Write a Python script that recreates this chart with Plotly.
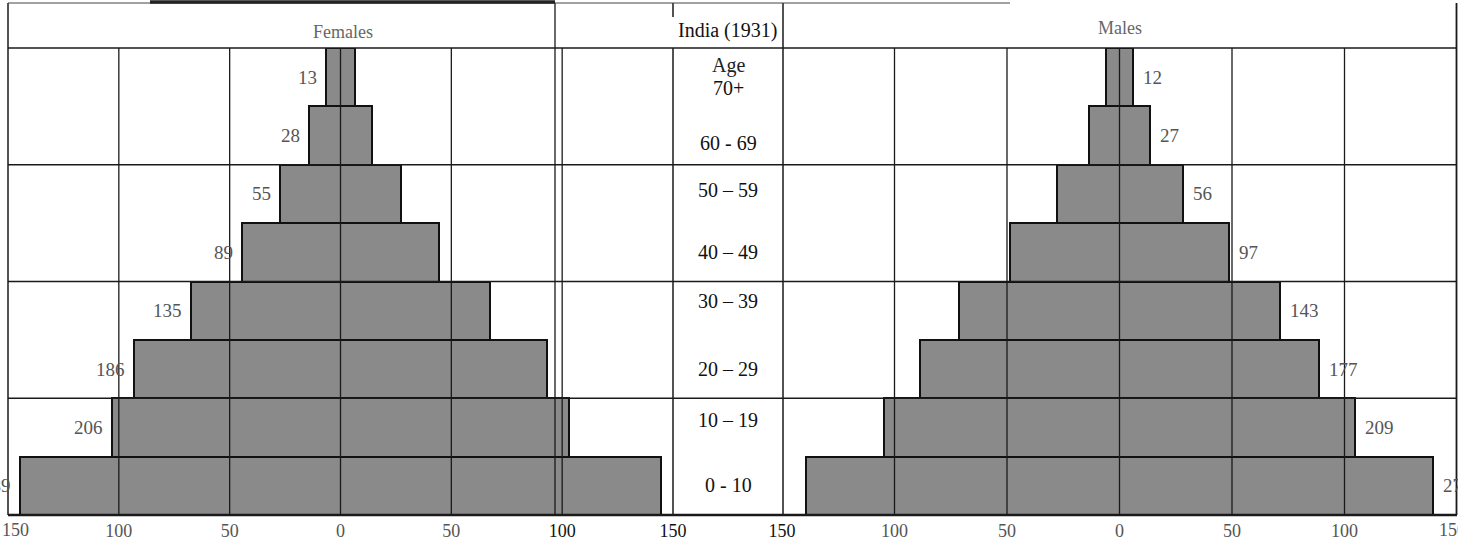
import plotly.graph_objects as go

# ---- data ----
age_groups = ["0 - 10", "10 -- 19", "20 -- 29", "30 -- 39", "40 -- 49", "50 -- 59", "60 - 69", "70+"]
females = [289, 206, 186, 135, 89, 55, 28, 13]
males = [279, 209, 177, 143, 97, 56, 27, 12]
tick_vals = [-150, -100, -50, 0, 50, 100, 150]
tick_text = ["150", "100", "50", "0", "50", "100", "150"]
title_left = "Females"
title_mid = "India (1931)"
title_right = "Males"
age_heading = "Age"

# ---- layout helpers (pixel -> paper) ----
W, H = 1458, 548
def px(x):
    return x / W
def py(y):
    return 1 - y / H

SERIF = "Liberation Serif"
BAR_FILL = "#8a8a8a"
Y_TOP, Y_BOT = 48, 515
ydom = [py(Y_BOT), py(Y_TOP)]

fig = go.Figure()
fig.add_trace(go.Bar(
    y=age_groups, x=females, base=[-v / 2 for v in females], orientation="h",
    marker=dict(color=BAR_FILL, line=dict(color="#111", width=2)),
    xaxis="x", yaxis="y", hoverinfo="skip", showlegend=False))
fig.add_trace(go.Bar(
    y=age_groups, x=males, base=[-v / 2 for v in males], orientation="h",
    marker=dict(color=BAR_FILL, line=dict(color="#111", width=2)),
    xaxis="x2", yaxis="y2", hoverinfo="skip", showlegend=False))

def ticktexts(black_idx):
    out = []
    for i, t in enumerate(tick_text):
        c = "#111" if i in black_idx else "#555"
        out.append(f"<span style='color:{c}'>{t}</span>")
    return out

axis_common = dict(range=[-150, 150], showgrid=False, zeroline=False, showline=False,
                   tickvals=tick_vals, ticks="", fixedrange=True, automargin=False,
                   ticklabelstandoff=3,
                   tickfont=dict(family=SERIF, size=18, color="#555"))
yaxis_common = dict(domain=ydom, categoryorder="array", categoryarray=age_groups,
                    range=[-0.5, 7.5], showticklabels=False, showgrid=False, zeroline=False,
                    fixedrange=True, automargin=False)
fig.update_layout(
    width=W, height=H, margin=dict(l=0, r=0, t=0, b=0, autoexpand=False),
    paper_bgcolor="white", plot_bgcolor="rgba(0,0,0,0)",
    bargap=0, barmode="overlay",
    xaxis=dict(domain=[px(8), px(673)], ticktext=ticktexts({5, 6}), anchor="y", **axis_common),
    xaxis2=dict(domain=[px(782), px(1457)], ticktext=ticktexts({0}), anchor="y2", **axis_common),
    yaxis=dict(**yaxis_common),
    yaxis2=dict(anchor="x2", **yaxis_common),
)

shapes = []
LINE = "#1a1a1a"
def vline_paper(x, y0, y1, w=1.3, color=LINE):
    shapes.append(dict(type="line", xref="paper", yref="paper", x0=px(x), x1=px(x),
                       y0=py(y0), y1=py(y1), line=dict(color=color, width=w), layer="above"))
def hline_paper(y, x0, x1, w=1.3, color=LINE):
    shapes.append(dict(type="line", xref="paper", yref="paper", x0=px(x0), x1=px(x1),
                       y0=py(y), y1=py(y), line=dict(color=color, width=w), layer="above"))

# grid lines inside panels (drawn over the bars, as in the print)
for v in [-100, -50, 0, 50, 100]:
    shapes.append(dict(type="line", xref="x", yref="paper", x0=v, x1=v, y0=ydom[0], y1=ydom[1],
                       line=dict(color=LINE, width=1.3), layer="above"))
for v in [-100, -50, 0, 50, 100]:
    shapes.append(dict(type="line", xref="x2", yref="paper", x0=v, x1=v, y0=ydom[0], y1=ydom[1],
                       line=dict(color=LINE, width=1.3), layer="above"))
# horizontal grid lines every two age groups
for yb in [1.5, 3.5, 5.5]:
    shapes.append(dict(type="line", xref="paper", yref="y", x0=px(8), x1=px(1457), y0=yb, y1=yb,
                       line=dict(color=LINE, width=1.3), layer="above"))

# frame / table lines
vline_paper(8, 3, Y_BOT, 1.5)
vline_paper(555, 3, Y_BOT, 1.3)
vline_paper(673, 3, 17, 1.5)
vline_paper(673, Y_TOP, Y_BOT, 1.5)
vline_paper(783, 3, Y_BOT, 1.5)
vline_paper(1456.5, 3, Y_BOT, 1.8)
hline_paper(Y_TOP, 8, 1457, 1.6)
hline_paper(Y_BOT, 8, 1457, 2.5)
hline_paper(3, 8, 1010, 1.0, "#444")
hline_paper(2, 150, 555, 3.5, "#222")

fig.update_layout(shapes=shapes)

ann = []
# value labels
for a, v in zip(age_groups, females):
    ann.append(dict(xref="x", yref="y", x=-v / 2, y=a, text=str(v), showarrow=False,
                    xanchor="right", yanchor="middle", xshift=-7,
                    font=dict(family=SERIF, size=19, color="#555")))
for a, v in zip(age_groups, males):
    ann.append(dict(xref="x2", yref="y2", x=v / 2, y=a, text=str(v), showarrow=False,
                    xanchor="left", yanchor="middle", xshift=8,
                    font=dict(family=SERIF, size=19, color="#555")))
# age labels in middle column
label_yshift = [1, 7, 0, 10, 0, 4, -7, -11]
for a, s in zip(age_groups, label_yshift):
    ann.append(dict(xref="paper", yref="y", x=px(728), y=a, text=a.replace("--", "\u2013"),
                    showarrow=False, xanchor="center", yanchor="middle", yshift=s,
                    font=dict(family=SERIF, size=20, color="#111")))
ann.append(dict(xref="paper", yref="y", x=px(728), y=age_groups[-1], text=age_heading, showarrow=False,
                xanchor="center", yanchor="middle", yshift=12,
                font=dict(family=SERIF, size=20, color="#222")))
# outer tick labels that sit at the very edges of the page
ann.append(dict(xref="paper", yref="paper", x=px(16), y=py(530), text=tick_text[0], showarrow=False,
                xanchor="center", yanchor="middle", font=dict(family=SERIF, size=18, color="#555")))
ann.append(dict(xref="paper", yref="paper", x=px(1452), y=py(530), text=tick_text[-1], showarrow=False,
                xanchor="center", yanchor="middle", font=dict(family=SERIF, size=18, color="#555")))
# header row
ann.append(dict(xref="paper", yref="paper", x=px(343), y=py(32), text=title_left, showarrow=False,
                xanchor="center", yanchor="middle",
                font=dict(family=SERIF, size=18, color="#666")))
ann.append(dict(xref="paper", yref="paper", x=px(727), y=py(31), text=title_mid, showarrow=False,
                xanchor="center", yanchor="middle",
                font=dict(family=SERIF, size=20, color="#111")))
ann.append(dict(xref="paper", yref="paper", x=px(1120), y=py(28), text=title_right, showarrow=False,
                xanchor="center", yanchor="middle",
                font=dict(family=SERIF, size=18, color="#666")))
fig.update_layout(annotations=ann)

fig.write_html("out.html", config={"displayModeBar": False},
               post_script="document.body.style.margin='0px';")
